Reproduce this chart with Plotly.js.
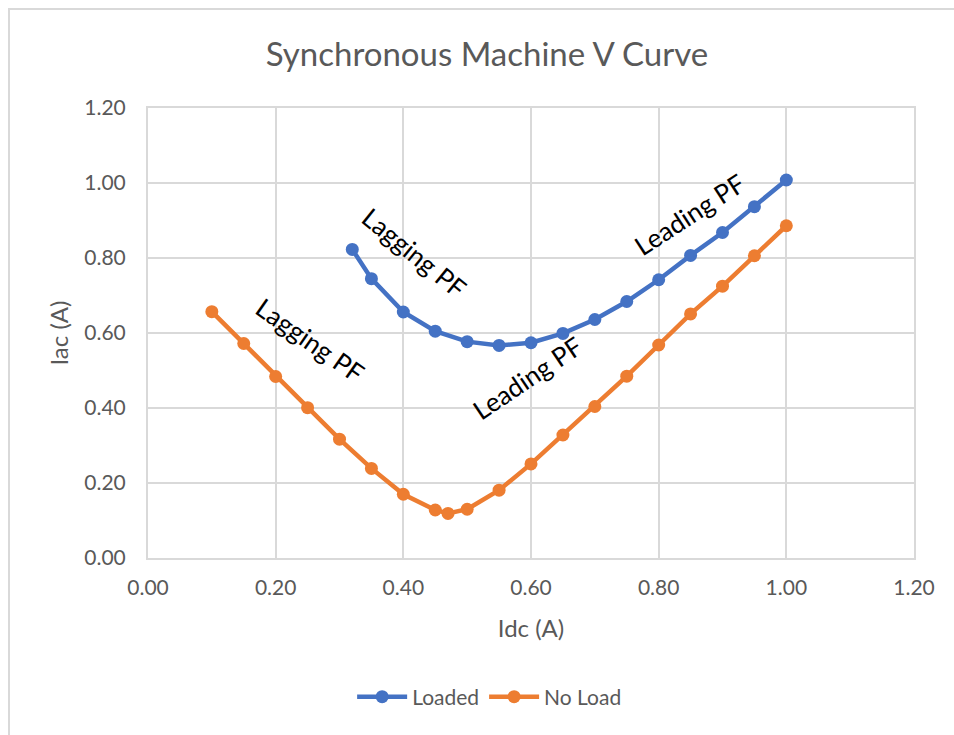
<!DOCTYPE html>
<html>
<head>
<meta charset="utf-8">
<script src="https://cdn.plot.ly/plotly-3.0.1.min.js"></script>
<style>
  html, body { margin: 0; padding: 0; background: #ffffff; }
  #wrap { position: relative; width: 954px; height: 735px; overflow: hidden; }
  #chart { position: absolute; left: 0; top: 0; width: 954px; height: 735px; }
  #frame { position: absolute; left: 8px; top: 8px; width: 1000px; height: 800px;
           border-left: 2px solid #d9d9d9; border-top: 2px solid #d9d9d9; pointer-events: none; }
</style>
</head>
<body>
<div id="wrap">
  <div id="chart"></div>
  <div id="frame"></div>
</div>
<script>
// Loaded series
const loadedIdc = [0.32, 0.35, 0.40, 0.45, 0.50, 0.55, 0.60, 0.65, 0.70, 0.75, 0.80, 0.85, 0.90, 0.95, 1.00];
const loadedIac = [0.823, 0.745, 0.656, 0.605, 0.577, 0.567, 0.574, 0.599, 0.636, 0.684, 0.742, 0.807, 0.868, 0.937, 1.008];

// No Load series
const noLoadIdc = [0.10, 0.15, 0.20, 0.25, 0.30, 0.35, 0.40, 0.45, 0.47, 0.50, 0.55, 0.60, 0.65, 0.70, 0.75, 0.80, 0.85, 0.90, 0.95, 1.00];
const noLoadIac = [0.657, 0.572, 0.484, 0.401, 0.317, 0.239, 0.170, 0.128, 0.119, 0.130, 0.181, 0.251, 0.328, 0.404, 0.485, 0.568, 0.651, 0.725, 0.806, 0.886];

// Tick values / labels
const tickVals = [0, 0.2, 0.4, 0.6, 0.8, 1.0, 1.2];
const tickText = ["0.00", "0.20", "0.40", "0.60", "0.80", "1.00", "1.20"];

// Annotation labels
const noteText = ["Lagging PF", "Lagging PF", "Leading PF", "Leading PF"];
const noteX = [0.418, 0.254, 0.594, 0.849];
const noteY = [0.813, 0.581, 0.480, 0.917];
const noteAngle = [39, 35, -34, -33];

const FONT = "Lato, 'Open Sans', 'DejaVu Sans', sans-serif";
const GRAY = "#595959";
const GRID = "#d9d9d9";

const traces = [
  {
    x: loadedIdc, y: loadedIac, name: "Loaded", type: "scatter", mode: "lines+markers",
    line: { color: "#4472C4", width: 4.5 },
    marker: { color: "#4472C4", size: 13 }
  },
  {
    x: noLoadIdc, y: noLoadIac, name: "No Load", type: "scatter", mode: "lines+markers",
    line: { color: "#ED7D31", width: 4.5 },
    marker: { color: "#ED7D31", size: 13 }
  }
];

const annotations = noteText.map((t, i) => ({
  x: noteX[i], y: noteY[i], xref: "x", yref: "y", text: t, showarrow: false,
  textangle: noteAngle[i], font: { family: FONT, size: 26, color: "#000000" }
}));

const layout = {
  width: 954, height: 735,
  margin: { l: 148, r: 40, t: 108, b: 177, pad: 0 },
  paper_bgcolor: "rgba(0,0,0,0)",
  plot_bgcolor: "#ffffff",
  font: { family: FONT, color: GRAY },
  title: { text: "Synchronous Machine V Curve", font: { family: FONT, size: 33, color: GRAY },
           x: 487 / 954, xref: "container", xanchor: "center", y: 55, yref: "container", yanchor: "middle" },
  xaxis: {
    range: [0, 1.2], tickvals: tickVals, ticktext: tickText, ticks: "",
    showgrid: true, gridcolor: GRID, gridwidth: 2,
    showline: true, linecolor: GRID, linewidth: 2, mirror: true,
    zeroline: false, ticklabelstandoff: 10,
    tickfont: { family: FONT, size: 21, color: GRAY },
    title: { text: "Idc (A)", font: { family: FONT, size: 24, color: GRAY }, standoff: 22 }
  },
  yaxis: {
    range: [0, 1.2], tickvals: tickVals, ticktext: tickText, ticks: "",
    showgrid: true, gridcolor: GRID, gridwidth: 2,
    showline: true, linecolor: GRID, linewidth: 2, mirror: true,
    zeroline: false, ticklabelstandoff: 16,
    tickfont: { family: FONT, size: 21, color: GRAY },
    title: { text: "Iac (A)", font: { family: FONT, size: 24, color: GRAY }, standoff: 9 }
  },
  showlegend: true,
  legend: {
    orientation: "h", x: 0.446, xanchor: "center", y: -0.309, yanchor: "middle",
    font: { family: FONT, size: 21, color: GRAY }, bgcolor: "rgba(0,0,0,0)",
    itemwidth: 50
  },
  annotations: annotations
};

Plotly.newPlot("chart", traces, layout, { staticPlot: true, displayModeBar: false });
</script>
</body>
</html>
